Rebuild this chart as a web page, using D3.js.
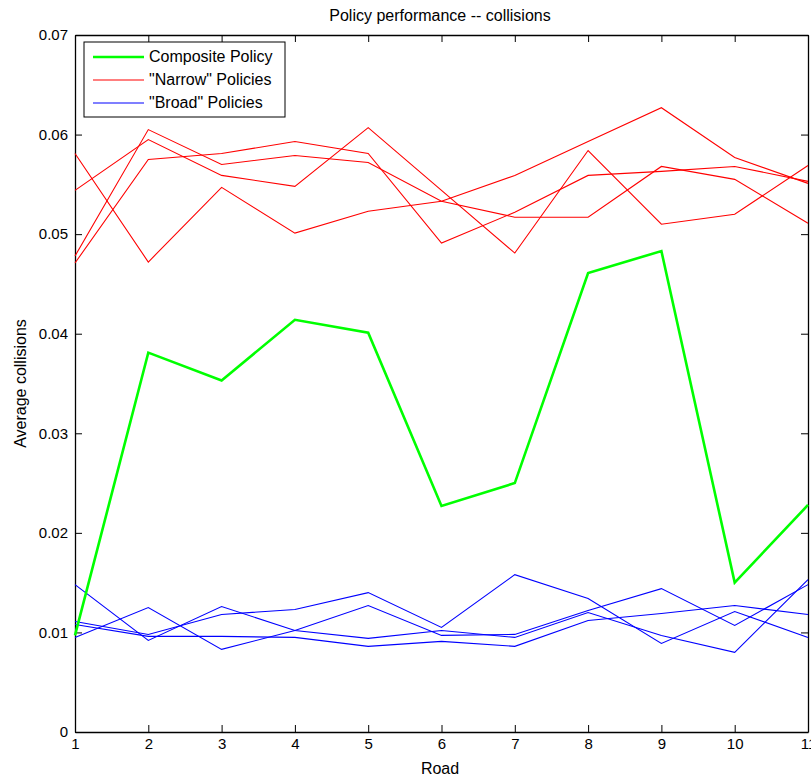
<!DOCTYPE html>
<html>
<head>
<meta charset="utf-8">
<script src="https://cdn.jsdelivr.net/npm/d3@7/dist/d3.min.js"></script>
<style>
  html, body { margin: 0; padding: 0; background: #fff; }
  svg { display: block; font-family: "Liberation Sans", Arial, Helvetica, sans-serif; }
</style>
</head>
<body>
<svg id="chart" width="811" height="776"></svg>
<script>
// ---- data ----
const roads = [1, 2, 3, 4, 5, 6, 7, 8, 9, 10, 11];
const xTicks = [1, 2, 3, 4, 5, 6, 7, 8, 9, 10, 11];
const yTicks = [0, 0.01, 0.02, 0.03, 0.04, 0.05, 0.06, 0.07];
const yTickLabels = ["0", "0.01", "0.02", "0.03", "0.04", "0.05", "0.06", "0.07"];

const composite = [0.0097, 0.0381, 0.0353, 0.0414, 0.0401, 0.0227, 0.0250, 0.0461, 0.0483, 0.0150, 0.0228];

const narrow1 = [0.0581, 0.0472, 0.0547, 0.0501, 0.0523, 0.0533, 0.0559, 0.0593, 0.0627, 0.0577, 0.0551];
const narrow2 = [0.0544, 0.0595, 0.0559, 0.0548, 0.0607, 0.0544, 0.0481, 0.0584, 0.0510, 0.0520, 0.0569];
const narrow3 = [0.0478, 0.0605, 0.0570, 0.0579, 0.0572, 0.0533, 0.0517, 0.0517, 0.0568, 0.0555, 0.0511];
const narrow4 = [0.0471, 0.0575, 0.0581, 0.0593, 0.0581, 0.0491, 0.0522, 0.0559, 0.0563, 0.0568, 0.0553];

const broad1 = [0.0148, 0.0092, 0.0126, 0.0102, 0.0094, 0.0102, 0.0095, 0.0120, 0.0097, 0.0080, 0.0153];
const broad2 = [0.0111, 0.0098, 0.0118, 0.0123, 0.0140, 0.0105, 0.0158, 0.0134, 0.0089, 0.0121, 0.0095];
const broad3 = [0.0095, 0.0125, 0.0083, 0.0102, 0.0127, 0.0097, 0.0098, 0.0122, 0.0144, 0.0107, 0.0148];
const broad4 = [0.0108, 0.0096, 0.0096, 0.0095, 0.0086, 0.0091, 0.0086, 0.0112, 0.0119, 0.0127, 0.0118];

const legendLabels = ["Composite Policy", "\"Narrow\" Policies", "\"Broad\" Policies"];
const titleText = "Policy performance -- collisions";
const xLabel = "Road";
const yLabel = "Average collisions";

// ---- layout ----
const W = 811, H = 776;
const L = 75, R = 808, T = 35, B = 732;
const svg = d3.select("#chart");
svg.append("rect").attr("width", W).attr("height", H).attr("fill", "#fff");

const x = d3.scaleLinear().domain([1, 11]).range([L, R]);
const y = d3.scaleLinear().domain([0, 0.07]).range([B, T]);

const fs = 15;     // tick labels
const fsL = 16;    // title, axis labels, legend
const tick = 7;

// axes
const gx = svg.append("g").attr("transform", `translate(0,${B})`)
  .call(d3.axisBottom(x).tickValues(xTicks).tickFormat(d3.format("d"))
    .tickSizeInner(-tick).tickSizeOuter(0).tickPadding(6));
const gxt = svg.append("g").attr("transform", `translate(0,${T})`)
  .call(d3.axisTop(x).tickValues(xTicks).tickFormat("")
    .tickSizeInner(-tick).tickSizeOuter(0));
const gy = svg.append("g").attr("transform", `translate(${L},0)`)
  .call(d3.axisLeft(y).tickValues(yTicks).tickFormat((d, i) => yTickLabels[i])
    .tickSizeInner(-tick).tickSizeOuter(0).tickPadding(7));
const gyr = svg.append("g").attr("transform", `translate(${R},0)`)
  .call(d3.axisRight(y).tickValues(yTicks).tickFormat("")
    .tickSizeInner(-tick).tickSizeOuter(0));

[gx, gxt, gy, gyr].forEach(g => {
  g.selectAll("path.domain").attr("stroke", "#000").attr("stroke-width", 1.3);
  g.selectAll(".tick line").attr("stroke", "#000").attr("stroke-width", 1);
  g.selectAll(".tick text").attr("fill", "#000").style("font-size", fs + "px")
    .style("font-family", "\"Liberation Sans\", Arial, sans-serif");
});

// lines
const line = d3.line().x((d, i) => x(roads[i])).y(d => y(d));

const plotG = svg.append("g");
[broad1, broad2, broad3, broad4].forEach(s => {
  plotG.append("path").datum(s).attr("d", line)
    .attr("fill", "none").attr("stroke", "#0000ff").attr("stroke-width", 1.1)
    .attr("stroke-linejoin", "miter");
});
[narrow1, narrow2, narrow3, narrow4].forEach(s => {
  plotG.append("path").datum(s).attr("d", line)
    .attr("fill", "none").attr("stroke", "#ff0000").attr("stroke-width", 1.1)
    .attr("stroke-linejoin", "miter");
});
plotG.append("path").datum(composite).attr("d", line)
  .attr("fill", "none").attr("stroke", "#00ff00").attr("stroke-width", 2.6)
  .attr("stroke-linejoin", "miter");

// title & labels
svg.append("text").attr("x", 440).attr("y", 21).attr("text-anchor", "middle")
  .style("font-size", fsL + "px").text(titleText);
svg.append("text").attr("x", 440).attr("y", 774).attr("text-anchor", "middle")
  .style("font-size", fsL + "px").text(xLabel);
svg.append("text").attr("transform", `translate(26,${(T + B) / 2}) rotate(-90)`)
  .attr("text-anchor", "middle").style("font-size", fsL + "px").text(yLabel);

// legend
const lg = svg.append("g");
lg.append("rect").attr("x", 84).attr("y", 42).attr("width", 201).attr("height", 75)
  .attr("fill", "#fff").attr("stroke", "#000").attr("stroke-width", 1);
const lgColors = ["#00ff00", "#ff0000", "#0000ff"];
const lgWidths = [2.6, 1.1, 1.1];
legendLabels.forEach((lab, i) => {
  const cy = 57 + i * 23;
  lg.append("line").attr("x1", 93).attr("x2", 144).attr("y1", cy).attr("y2", cy)
    .attr("stroke", lgColors[i]).attr("stroke-width", lgWidths[i]);
  lg.append("text").attr("x", 149).attr("y", cy + 5).style("font-size", fsL + "px").text(lab);
});
</script>
</body>
</html>
